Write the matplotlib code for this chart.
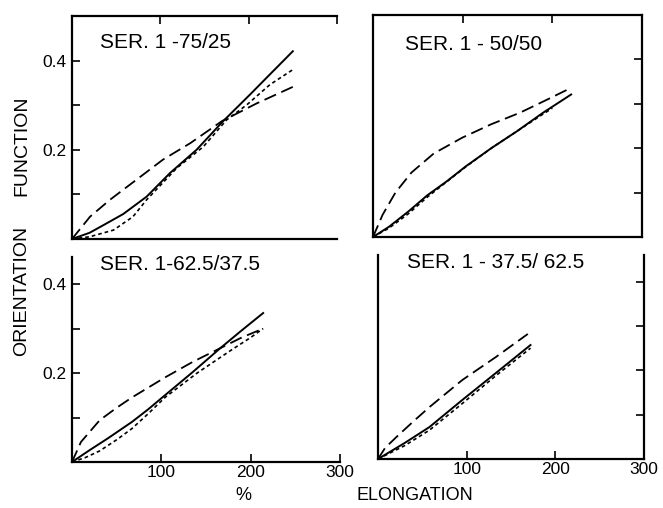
"""Orientation function vs. elongation for four SER. 1 blend ratios."""

import matplotlib

matplotlib.use("Agg")
import matplotlib.pyplot as plt

plt.rcParams["font.family"] = ["Liberation Sans", "DejaVu Sans"]

# top left: SER. 1 - 75/25
tl_solid_x = [0, 20, 35.5, 58, 84.5, 111, 141, 171, 201.6, 224, 250]
tl_solid_y = [0, 0.014, 0.031, 0.056, 0.095, 0.148, 0.2, 0.264, 0.324, 0.369, 0.421]
tl_dot_x = [0, 20, 47, 69, 84.5, 118.6, 148.7, 175, 198, 224, 251]
tl_dot_y = [0, 0.005, 0.02, 0.05, 0.088, 0.159, 0.207, 0.267, 0.301, 0.346, 0.381]
tl_dash_x = [0, 20.4, 43, 73, 103, 134, 169.5, 209, 251]
tl_dash_y = [0, 0.05, 0.088, 0.133, 0.178, 0.215, 0.264, 0.304, 0.342]

# top right: SER. 1 - 50/50
tr_solid_x = [0, 17.8, 39.2, 60.6, 82, 103.4, 131.9, 160.4, 189, 221]
tr_solid_y = [0, 0.023, 0.057, 0.094, 0.125, 0.159, 0.2, 0.238, 0.279, 0.321]
tr_dot_x = [0, 17.8, 39.2, 60.6, 82, 103.4, 131.9, 160.4, 189, 200]
tr_dot_y = [0, 0.02, 0.052, 0.09, 0.124, 0.158, 0.2, 0.238, 0.276, 0.29]
tr_dash_x = [0, 10.7, 25, 42.8, 67.7, 99.8, 131.9, 164, 190.7, 221]
tr_dash_y = [0, 0.05, 0.1, 0.145, 0.188, 0.224, 0.254, 0.28, 0.306, 0.336]

# bottom left: SER. 1 - 62.5/37.5
bl_solid_x = [0, 20, 40, 67, 85, 104, 135, 166, 190, 214]
bl_solid_y = [0, 0.027, 0.053, 0.09, 0.118, 0.15, 0.202, 0.256, 0.296, 0.335]
bl_dot_x = [0, 15, 31, 50, 67, 85, 104, 140, 177, 200, 214]
bl_dot_y = [0, 0.01, 0.025, 0.05, 0.075, 0.108, 0.145, 0.2, 0.25, 0.28, 0.3]
bl_dash_x = [0, 10, 31, 50, 67, 104, 135, 166, 190, 214]
bl_dash_y = [0, 0.045, 0.094, 0.122, 0.145, 0.19, 0.225, 0.256, 0.28, 0.30]

# bottom right: SER. 1 - 37.5/62.5
br_solid_x = [0, 30, 58, 95, 133, 172]
br_solid_y = [0, 0.036, 0.072, 0.133, 0.194, 0.257]
br_dot_x = [0, 30, 58, 95, 133, 172]
br_dot_y = [0, 0.03, 0.065, 0.125, 0.188, 0.25]
br_dash_x = [0, 8, 21, 40, 58, 95, 133, 169]
br_dash_y = [0, 0.025, 0.05, 0.085, 0.117, 0.178, 0.23, 0.282]

titles = ["SER. 1 -75/25", "SER. 1 - 50/50", "SER. 1-62.5/37.5", "SER. 1 - 37.5/ 62.5"]
x_ticks = [100, 200, 300]
y_ticks = [0.1, 0.2, 0.3, 0.4]
y_labels = ["", "0.2", "", "0.4"]

# panel boxes in pixels: left, right, bottom, top, ymax
boxes = [
    (72, 337, 239, 16, 0.5),
    (373, 642, 237, 15, 0.5),
    (72, 340, 462, 257, 0.461),
    (378, 644, 459, 255, 0.46),
]
# which spines are drawn: left, right, top, bottom
spines = [
    (True, False, True, True),
    (True, True, True, True),
    (True, False, False, True),
    (True, True, False, True),
]
title_pos = [(100, 43), (405, 45), (100, 265), (407, 263)]

W, H = 663, 508
fig = plt.figure(figsize=(W / 100, H / 100), dpi=100)

data = [
    (tl_solid_x, tl_solid_y, tl_dot_x, tl_dot_y, tl_dash_x, tl_dash_y),
    (tr_solid_x, tr_solid_y, tr_dot_x, tr_dot_y, tr_dash_x, tr_dash_y),
    (bl_solid_x, bl_solid_y, bl_dot_x, bl_dot_y, bl_dash_x, bl_dash_y),
    (br_solid_x, br_solid_y, br_dot_x, br_dot_y, br_dash_x, br_dash_y),
]

for i, (box, sp, series) in enumerate(zip(boxes, spines, data)):
    left, right, bottom, top, ymax = box
    ax = fig.add_axes([left / W, (H - bottom) / H, (right - left) / W, (bottom - top) / H])
    sx, sy, dx, dy, lx, ly = series
    ax.plot(sx, sy, color="black", lw=1.4, solid_joinstyle="round")
    ax.plot(dx, dy, color="black", lw=1.2, dashes=(2.2, 1.8))
    ax.plot(lx, ly, color="black", lw=1.3, dashes=(7, 3.2))
    ax.set_xlim(0, 300)
    ax.set_ylim(0, ymax)

    for name, on in zip(["left", "right", "top", "bottom"], sp):
        ax.spines[name].set_visible(on)
        ax.spines[name].set_linewidth(1.6)

    ax.tick_params(direction="in", length=6, width=1.2, labelsize=12.5, pad=4)
    is_left = i in (0, 2)
    is_bottom = i in (2, 3)

    ax.set_yticks(y_ticks)
    if is_left:
        ax.set_yticklabels(y_labels)
        ax.tick_params(axis="y", left=True, right=False, labelleft=True)
    else:
        ax.tick_params(axis="y", left=False, right=True, labelleft=False)

    if is_bottom:
        ax.set_xticks(x_ticks)
        ax.set_xticklabels([str(t) for t in x_ticks])
        ax.tick_params(axis="x", bottom=True, top=False, labelbottom=True, pad=2)
    else:
        ax.set_xticks(x_ticks if i == 0 else x_ticks[:2])
        ax.tick_params(axis="x", bottom=False, top=True, labelbottom=False)

    tx, ty = title_pos[i]
    fig.text(tx / W, 1 - ty / H, titles[i], fontsize=15, va="center", ha="left")

fig.text(22 / W, 1 - 146 / H, "FUNCTION", rotation=90,
         fontsize=14, ha="center", va="center")
fig.text(22 / W, 1 - 291 / H, "ORIENTATION", rotation=90,
         fontsize=14, ha="center", va="center")
fig.text(243 / W, 1 - 495 / H, "%", fontsize=13, ha="center", va="center")
fig.text(357 / W, 1 - 495 / H, "ELONGATION", fontsize=13, ha="left", va="center")

fig.savefig("out.png", dpi=100)
